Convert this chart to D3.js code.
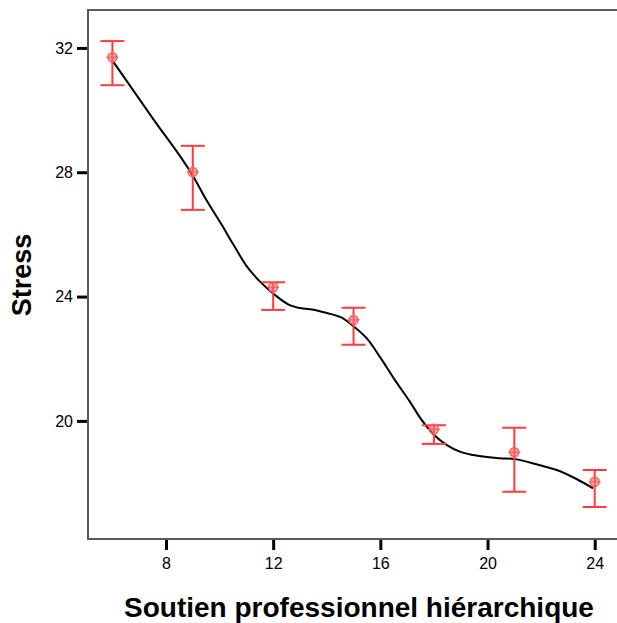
<!DOCTYPE html>
<html>
<head>
<meta charset="utf-8">
<script src="https://cdn.jsdelivr.net/npm/d3@7"></script>
<style>
  html, body { margin: 0; padding: 0; background: #fff; overflow: hidden; }
  svg { display: block; font-family: "Liberation Sans", Arial, sans-serif; }
</style>
</head>
<body>
<svg id="chart" width="617" height="623"></svg>
<script>
// ---- data ----
const xValues = [6, 9, 12, 15, 18, 21, 24];
const meanValues = [31.70, 28.01, 24.30, 23.25, 19.73, 18.99, 18.04];
const upperValues = [32.22, 28.85, 24.46, 23.64, 19.86, 19.78, 18.42];
const lowerValues = [30.80, 26.79, 23.57, 22.45, 19.26, 17.72, 17.23];

// smooth fit line
const fitX = [6.03, 7.50, 9.02, 9.52, 10.08, 10.51, 11.01, 11.51, 12.07, 12.56, 13.0, 13.56, 14.0, 14.56, 14.99, 15.55, 15.99, 16.54, 17.10, 17.54, 17.97, 18.47, 18.97, 19.47, 20.46, 21.02, 21.96, 22.58, 23.32, 23.94];
const fitY = [31.56, 29.74, 27.86, 27.09, 26.31, 25.68, 24.98, 24.48, 24.05, 23.75, 23.63, 23.57, 23.47, 23.32, 23.05, 22.60, 22.05, 21.32, 20.62, 20.03, 19.58, 19.23, 19.01, 18.90, 18.80, 18.77, 18.57, 18.42, 18.13, 17.83];

const xTicks = [8, 12, 16, 20, 24];
const yTicks = [20, 24, 28, 32];
const xTitle = "Soutien professionnel hiérarchique";
const yTitle = "Stress";

// ---- layout ----
const svg = d3.select("#chart");
const mLeft = 88, mTop = 10, mBottom = 539, mRight = 625;

const x = d3.scaleLinear().domain([5.09, 25.13]).range([mLeft, mRight]);
const y = d3.scaleLinear().domain([16.2, 33.22]).range([mBottom, mTop]);

const red = "#ff3b3b";

// frame (left, top, bottom; right edge lies beyond the picture)
svg.append("path")
  .attr("d", `M${mRight + 10},${mTop}H${mLeft}V${mBottom}H${mRight + 10}`)
  .attr("fill", "none").attr("stroke", "#5a5a5a").attr("stroke-width", 2);

// axes
const yAxis = svg.append("g")
  .attr("transform", `translate(${mLeft - 1},0)`)
  .call(d3.axisLeft(y).tickValues(yTicks).tickSize(10).tickPadding(4).tickFormat(d3.format("d")));
yAxis.select(".domain").remove();
yAxis.selectAll(".tick line").attr("stroke", "#000").attr("stroke-width", 3);
yAxis.selectAll(".tick text").attr("font-size", 16).attr("fill", "#000")
  .attr("font-family", "'Liberation Sans', Arial, sans-serif");

const xAxis = svg.append("g")
  .attr("transform", `translate(0,${mBottom + 1})`)
  .call(d3.axisBottom(x).tickValues(xTicks).tickSize(10).tickPadding(8).tickFormat(d3.format("d")));
xAxis.select(".domain").remove();
xAxis.selectAll(".tick line").attr("stroke", "#000").attr("stroke-width", 3);
xAxis.selectAll(".tick text").attr("font-size", 16).attr("fill", "#000")
  .attr("font-family", "'Liberation Sans', Arial, sans-serif");

// titles
svg.append("text")
  .attr("x", 359).attr("y", 617)
  .attr("text-anchor", "middle")
  .attr("font-size", 28).attr("font-weight", "bold")
  .text(xTitle);

svg.append("text")
  .attr("transform", `translate(31,275) rotate(-90)`)
  .attr("text-anchor", "middle")
  .attr("font-size", 27).attr("font-weight", "bold")
  .text(yTitle);

// fit line
const fitData = fitX.map((d, i) => [d, fitY[i]]);
svg.append("path")
  .datum(fitData)
  .attr("fill", "none").attr("stroke", "#000").attr("stroke-width", 2)
  .attr("stroke-linejoin", "round")
  .attr("d", d3.line().x(d => x(d[0])).y(d => y(d[1])).curve(d3.curveMonotoneX));

// error bars
const pts = xValues.map((d, i) => ({x: d, m: meanValues[i], hi: upperValues[i], lo: lowerValues[i]}));
const capW = 12;
const eb = svg.append("g").attr("stroke", red).attr("stroke-width", 2).attr("fill", "none");
pts.forEach(p => {
  eb.append("line").attr("x1", x(p.x)).attr("x2", x(p.x)).attr("y1", y(p.hi)).attr("y2", y(p.lo));
  eb.append("line").attr("x1", x(p.x) - capW).attr("x2", x(p.x) + capW).attr("y1", y(p.hi)).attr("y2", y(p.hi));
  eb.append("line").attr("x1", x(p.x) - capW).attr("x2", x(p.x) + capW).attr("y1", y(p.lo)).attr("y2", y(p.lo));
});

// markers (circle with cross)
const mk = svg.append("g");
pts.forEach(p => {
  const cx = x(p.x), cy = y(p.m);
  mk.append("circle").attr("cx", cx).attr("cy", cy).attr("r", 4.5)
    .attr("fill", "rgba(255,110,110,0.55)").attr("stroke", "#ff5a5a").attr("stroke-width", 1.5);
  mk.append("line").attr("x1", cx - 6).attr("x2", cx + 6).attr("y1", cy).attr("y2", cy)
    .attr("stroke", "#ff5a5a").attr("stroke-width", 1.2);
  mk.append("line").attr("x1", cx).attr("x2", cx).attr("y1", cy - 6).attr("y2", cy + 6)
    .attr("stroke", "#ff5a5a").attr("stroke-width", 1.2);
});
</script>
</body>
</html>
